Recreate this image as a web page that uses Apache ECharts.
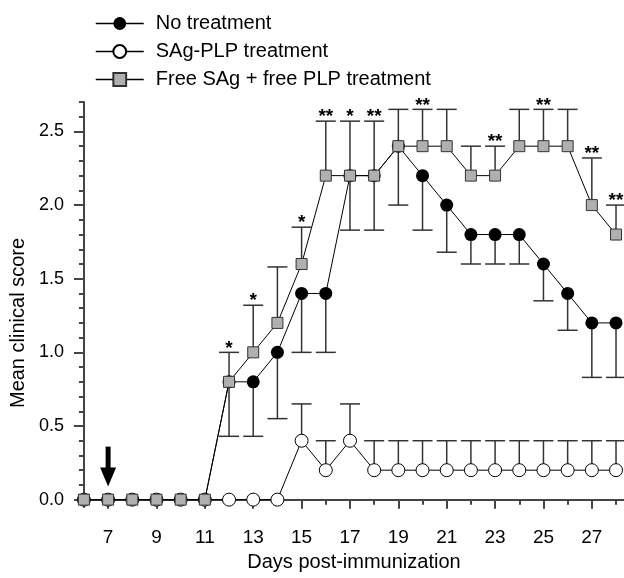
<!DOCTYPE html>
<html>
<head>
<meta charset="utf-8">
<script src="https://cdn.jsdelivr.net/npm/echarts@6/dist/echarts.min.js"></script>
<style>
  html, body { margin: 0; padding: 0; background: #fff; }
  #chart { width: 624px; height: 578px; }
</style>
</head>
<body>
<div id="chart"></div>
<script>
// days post-immunization
const days = [6, 7, 8, 9, 10, 11, 12, 13, 14, 15, 16, 17, 18, 19, 20, 21, 22, 23, 24, 25, 26, 27, 28];

// No treatment (mean + lower error bound)
const noTreatment = [0, 0, 0, 0, 0, 0, 0.8, 0.8, 1.0, 1.4, 1.4, 2.2, 2.2, 2.4, 2.2, 2.0, 1.8, 1.8, 1.8, 1.6, 1.4, 1.2, 1.2];
const noTreatmentLow = [null, null, null, null, null, null, 0.43, 0.43, 0.55, 1.0, 1.0, 1.83, 1.83, 2.0, 1.83, 1.68, 1.6, 1.6, 1.6, 1.35, 1.15, 0.83, 0.83];

// SAg-PLP treatment (mean + upper error bound)
const sagPlp = [0, 0, 0, 0, 0, 0, 0, 0, 0, 0.4, 0.2, 0.4, 0.2, 0.2, 0.2, 0.2, 0.2, 0.2, 0.2, 0.2, 0.2, 0.2, 0.2];
const sagPlpHigh = [null, null, null, null, null, null, null, null, null, 0.65, 0.4, 0.65, 0.4, 0.4, 0.4, 0.4, 0.4, 0.4, 0.4, 0.4, 0.4, 0.4, 0.4];

// Free SAg + free PLP treatment (mean + upper error bound + significance)
const freeMix = [0, 0, 0, 0, 0, 0, 0.8, 1.0, 1.2, 1.6, 2.2, 2.2, 2.2, 2.4, 2.4, 2.4, 2.2, 2.2, 2.4, 2.4, 2.4, 2.0, 1.8];
const freeMixHigh = [null, null, null, null, null, null, 1.0, 1.32, 1.58, 1.85, 2.57, 2.57, 2.57, 2.65, 2.65, 2.65, 2.4, 2.4, 2.65, 2.65, 2.65, 2.32, 2.0];
const freeMixStars = ['', '', '', '', '', '', '*', '*', '', '*', '**', '*', '**', '', '**', '', '', '**', '', '**', '', '**', '**'];

// treatment arrow (day, from, to)
const arrowDay = 7;
const arrowFrom = 0.36;
const arrowTo = 0.09;

// ticks
const xMajorTicks = [7, 9, 11, 13, 15, 17, 19, 21, 23, 25, 27];
const xMinorTicks = [6, 8, 10, 12, 14, 16, 18, 20, 22, 24, 26, 28];
const yMajorTicks = [0, 0.5, 1.0, 1.5, 2.0, 2.5];
const yMinorTicks = [0.1, 0.2, 0.3, 0.4, 0.6, 0.7, 0.8, 0.9, 1.1, 1.2, 1.3, 1.4, 1.6, 1.7, 1.8, 1.9, 2.1, 2.2, 2.3, 2.4, 2.6, 2.7];

const FONT = "'Liberation Sans', Arial, sans-serif";
const AXIS_COLOR = "#444";
const BAR_COLOR = "#333";

function pairs(vals) {
  return days.map((d, i) => [d, vals[i]]);
}

function rawErr(vals, bounds) {
  const out = [];
  days.forEach((d, i) => {
    if (bounds[i] !== null) out.push([d, vals[i], bounds[i]]);
  });
  return out;
}

const freeMixErrStars = freeMixStars.filter((s, i) => freeMixHigh[i] !== null);

// vertical bar from the mean to the bound, cap at the bound, optional stars above the cap
function makeErrorRender(stars) {
  return function (params, api) {
    const x = api.value(0);
    const p0 = api.coord([x, api.value(1)]);
    const p1 = api.coord([x, api.value(2)]);
    const children = [
      { type: "line", shape: { x1: p0[0], y1: p0[1], x2: p1[0], y2: p1[1] }, style: { stroke: BAR_COLOR, lineWidth: 1.5 } },
      { type: "line", shape: { x1: p1[0] - 10, y1: p1[1], x2: p1[0] + 10, y2: p1[1] }, style: { stroke: BAR_COLOR, lineWidth: 1.5 } },
    ];
    const s = stars ? stars[params.dataIndex] : "";
    if (s) {
      children.push({
        type: "text",
        style: {
          x: p1[0], y: p1[1] - 4, text: s, align: "center", verticalAlign: "middle",
          font: "bold 19px " + FONT, fill: "#000",
        },
      });
    }
    return { type: "group", children: children };
  };
}

const chart = echarts.init(document.getElementById("chart"));
const option = {
  animation: false,
  textStyle: { fontFamily: FONT },
  legend: {
    orient: "vertical",
    left: 90,
    top: 8,
    itemWidth: 48,
    itemHeight: 16,
    itemGap: 7,
    textStyle: { fontSize: 20, lineHeight: 21, color: "#000", fontFamily: FONT, padding: [0, 0, 0, 7] },
    lineStyle: { width: 1.5 },
    data: ["No treatment", "SAg-PLP treatment", "Free SAg + free PLP treatment"],
  },
  grid: { left: 83, right: 0, top: 102, bottom: 71, containLabel: false },
  xAxis: [
    {
      type: "value",
      position: "bottom",
      min: 6,
      max: 28.33,
      name: "Days post-immunization",
      nameLocation: "middle",
      nameGap: 45,
      nameTextStyle: { fontSize: 20, color: "#000", fontFamily: FONT },
      axisLine: { show: true, lineStyle: { color: AXIS_COLOR, width: 2 } },
      axisTick: { show: true, customValues: xMajorTicks, length: 9, lineStyle: { color: AXIS_COLOR, width: 2 } },
      axisLabel: { customValues: xMajorTicks, fontSize: 19, color: "#000", margin: 21, fontFamily: FONT },
      splitLine: { show: false },
    },
    {
      type: "value",
      position: "bottom",
      min: 6,
      max: 28.33,
      axisLine: { show: false },
      axisTick: { show: true, customValues: xMinorTicks, length: 5, lineStyle: { color: AXIS_COLOR, width: 2 } },
      axisLabel: { show: false },
      splitLine: { show: false },
    },
  ],
  yAxis: [
    {
      type: "value",
      position: "left",
      min: -0.05,
      max: 2.7,
      name: "Mean clinical score",
      nameLocation: "middle",
      nameGap: 50,
      nameRotate: 90,
      nameTextStyle: { fontSize: 20, color: "#000", fontFamily: FONT, padding: [0, 37, 0, 0] },
      axisLine: { show: true, lineStyle: { color: AXIS_COLOR, width: 2 } },
      axisTick: { show: true, customValues: yMajorTicks, length: 10, lineStyle: { color: AXIS_COLOR, width: 2 } },
      axisLabel: {
        customValues: yMajorTicks, fontSize: 18, color: "#000", margin: 20, fontFamily: FONT,
        formatter: (v) => v.toFixed(1),
      },
      splitLine: { show: false },
    },
    {
      type: "value",
      position: "left",
      min: -0.05,
      max: 2.7,
      axisLine: { show: false },
      axisTick: { show: true, customValues: yMinorTicks, length: 5, lineStyle: { color: AXIS_COLOR, width: 2 } },
      axisLabel: { show: false },
      splitLine: { show: false },
    },
  ],
  series: [
    {
      type: "custom",
      name: "errNo",
      renderItem: makeErrorRender(null),
      data: rawErr(noTreatment, noTreatmentLow),
      encode: { x: 0, y: [1, 2] },
      clip: false,
      z: 1,
      silent: true,
    },
    {
      type: "custom",
      name: "errSag",
      renderItem: makeErrorRender(null),
      data: rawErr(sagPlp, sagPlpHigh),
      encode: { x: 0, y: [1, 2] },
      clip: false,
      z: 1,
      silent: true,
    },
    {
      type: "custom",
      name: "errFree",
      renderItem: makeErrorRender(freeMixErrStars),
      data: rawErr(freeMix, freeMixHigh),
      encode: { x: 0, y: [1, 2] },
      clip: false,
      z: 1,
      silent: true,
    },
    {
      type: "custom",
      name: "arrow",
      renderItem: function (params, api) {
        const top = api.coord([api.value(0), api.value(1)]);
        const tip = api.coord([api.value(0), api.value(2)]);
        return {
          type: "group",
          children: [
            { type: "line", shape: { x1: top[0], y1: top[1], x2: tip[0], y2: tip[1] - 14 }, style: { stroke: "#000", lineWidth: 5 } },
            { type: "polygon", shape: { points: [[tip[0] - 8, tip[1] - 19], [tip[0] + 8, tip[1] - 19], [tip[0], tip[1]]] }, style: { fill: "#000" } },
          ],
        };
      },
      data: [[arrowDay, arrowFrom, arrowTo]],
      encode: { x: 0, y: [1, 2] },
      clip: false,
      z: 5,
      silent: true,
    },
    {
      name: "No treatment",
      type: "line",
      data: pairs(noTreatment),
      symbol: "circle",
      symbolSize: 13,
      lineStyle: { color: "#000", width: 1 },
      itemStyle: { color: "#000" },
      z: 2,
    },
    {
      name: "SAg-PLP treatment",
      type: "line",
      data: pairs(sagPlp),
      symbol: "circle",
      symbolSize: 13,
      lineStyle: { color: "#000", width: 1 },
      itemStyle: { color: "#fff", borderColor: "#000", borderWidth: 1 },
      z: 3,
    },
    {
      name: "Free SAg + free PLP treatment",
      type: "line",
      data: pairs(freeMix),
      symbol: "rect",
      symbolSize: 11,
      lineStyle: { color: "#000", width: 1 },
      itemStyle: { color: "#b0b0b0", borderColor: "#333", borderWidth: 1 },
      z: 4,
    },
  ],
};
chart.setOption(option);
</script>
</body>
</html>
